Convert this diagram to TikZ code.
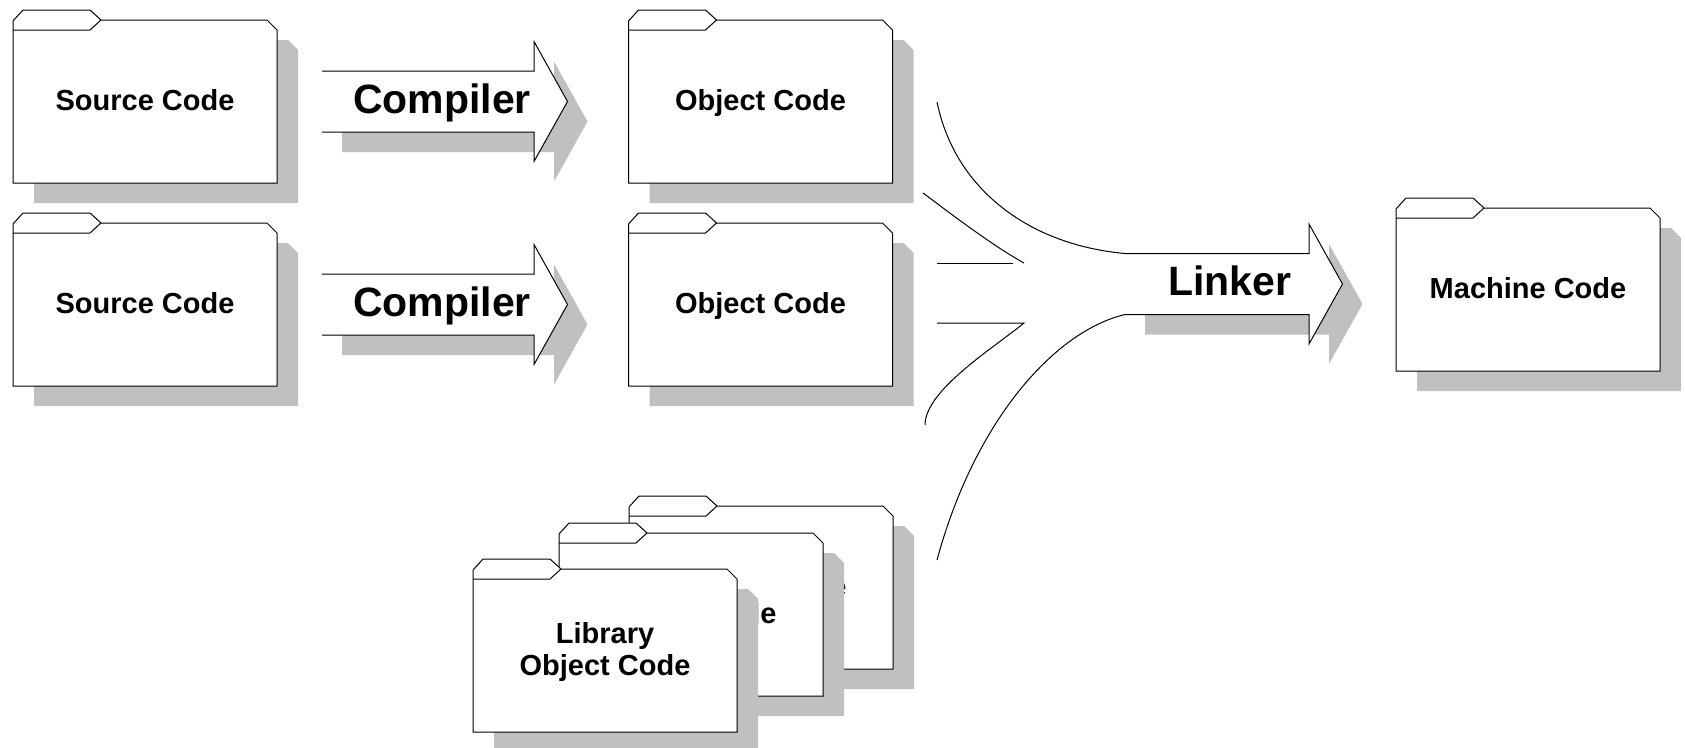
\documentclass[tikz,border=0pt]{standalone}
\usepackage{fontspec}
\setmainfont{Liberation Sans}
\definecolor{shadowgray}{RGB}{192,192,192}
\begin{document}
\begin{tikzpicture}[x=1pt,y=1pt,line width=1pt,line join=miter,
  labely/.store in=\flabely, labely=-100,
  lbl/.style={font=\bfseries\fontsize{29}{32}\selectfont,align=center,inner sep=0pt,anchor=base},
  arrowtext/.style={font=\bfseries\fontsize{41}{46}\selectfont,inner sep=0pt,anchor=base},
  pics/folder/.style={code={
    \fill[shadowgray] (21,-31)--(31,-20)--(98,-20)--(109,-30)--(275,-30)--(285,-40)--(285,-193)--(21,-193)--cycle;
    \draw[fill=white] (0,-11)--(10,0)--(77,0)--(88,-10)--(254,-10)--(264,-20)--(264,-173)--(0,-173)--cycle;
    \draw (0,-20)--(77,-20)--(88,-10);
    \node[lbl] (-t) at (132,\flabely) {#1};
  }},
  pics/bigarrow/.style={code={
    \fill[shadowgray] (20,10.5)--({#1+20},10.5)--({#1+20},40)--({#1+53.5},-20)--({#1+20},-80)--({#1+20},-50.5)--(20,-50.5)--cycle;
    \fill[white] (0,30.5)--(#1,30.5)--(#1,60)--({#1+33.5},0)--(#1,-60)--(#1,-30.5)--(0,-30.5)--cycle;
    \draw (0,30.5)--(#1,30.5)--(#1,60)--({#1+33.5},0)--(#1,-60)--(#1,-30.5)--(0,-30.5);
    \coordinate (-nw) at (0,30.5);
    \coordinate (-sw) at (0,-30.5);
  }},
]
\useasboundingbox (0,0) rectangle (1685,-747);
\clip (0,0) rectangle (1685,-747);

% source and object folders
\pic (src1) at (13,-10) {folder=Source Code};
\pic (src2) at (13,-213) {folder=Source Code};
\pic (obj1) at (628.5,-10) {folder=Object Code};
\pic (obj2) at (628.5,-213) {folder=Object Code};

% compiler arrows
\pic (cmp1) at (322,-101.5) {bigarrow=212};
\node[arrowtext] (cmp1t) at (442,-113) {Compiler};
\pic (cmp2) at (322,-304.5) {bigarrow=212};
\node[arrowtext] (cmp2t) at (442,-316) {Compiler};

% library stack
\pic (lib3) at (629,-496) {folder=Object Code};
\pic (lib2) at (559,-523) {folder=Object Code};
\pic[labely=-116] (lib1) at (473,-559) {folder={Library\\Object Code}};

% linker arrow
\pic (lnk) at (1125,-284) {bigarrow=184};
\node[arrowtext] (lnkt) at (1230,-295) {Linker};

% machine code
\pic (mach) at (1396,-198) {folder=Machine Code};

% funnel lines into linker
\coordinate (c1s) at (937,-102);
\coordinate (c2s) at (923,-193);
\coordinate (c2e) at (1024,-263);
\coordinate (c3s) at (937,-263);
\coordinate (c3e) at (1013,-263);
\coordinate (c4s) at (937,-323);
\coordinate (c4m) at (1024,-323);
\coordinate (c4e) at (925,-425);
\coordinate (c5e) at (937,-560);

\draw (c1s) .. controls (955,-190) and (1030,-245) .. (lnk-nw);
\draw (c2s) .. controls (953,-215.5) and (994,-246.5) .. (c2e);
\draw (c3s) -- (c3e);
\draw (c4s) -- (c4m) .. controls (995,-347) and (925,-390) .. (c4e);
\draw (lnk-sw) .. controls (1055,-331) and (975,-420) .. (c5e);
\end{tikzpicture}
\end{document}
